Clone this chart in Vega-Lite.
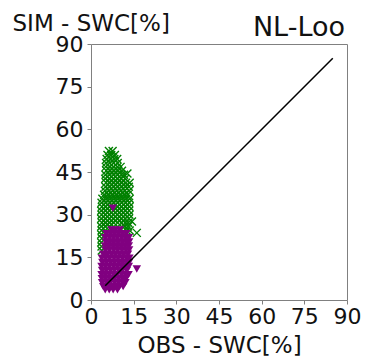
{
  "$schema": "https://vega.github.io/schema/vega-lite/v6.json",
  "width": 256,
  "height": 256,
  "autosize": {"type": "none"},
  "padding": {"left": 91, "top": 44, "right": 19, "bottom": 57},
  "background": "white",
  "config": {
    "view": {"stroke": "#808080", "strokeWidth": 1},
    "font": "DejaVu Sans",
    "axis": {"grid": false, "domain": false, "tickColor": "#808080", "tickSize": 4, "labelFont": "DejaVu Sans", "labelFontSize": 22, "labelColor": "#111", "labelFlush": false, "labelOverlap": false, "titleFont": "DejaVu Sans", "titleFontSize": 23, "titleFontWeight": "normal", "titleColor": "#111"}
  },
  "title": {"text": "NL-Loo", "anchor": "end", "orient": "top", "frame": "group", "fontSize": 27, "fontWeight": "normal", "font": "DejaVu Sans", "color": "#111", "baseline": "alphabetic", "offset": -51, "dx": -2},
  "datasets": {
    "green": [
      {"x":6.3,"y":52.4},{"x":7.6,"y":52.4},
      {"x":5.8,"y":51.0},{"x":7.1,"y":51.0},{"x":8.4,"y":51.0},
      {"x":5.5,"y":49.6},{"x":6.9,"y":49.6},{"x":8.2,"y":49.6},{"x":9.2,"y":49.6},
      {"x":5.3,"y":48.2},{"x":6.6,"y":48.2},{"x":8.0,"y":48.2},{"x":9.4,"y":48.2},
      {"x":5.2,"y":46.8},{"x":6.5,"y":46.8},{"x":7.9,"y":46.8},{"x":9.3,"y":46.8},{"x":10.4,"y":46.8},
      {"x":5.4,"y":45.4},{"x":6.8,"y":45.4},{"x":8.2,"y":45.4},{"x":9.6,"y":45.4},{"x":10.9,"y":45.4},{"x":12.8,"y":44.5},
      {"x":5.1,"y":44.0},{"x":6.5,"y":44.0},{"x":7.9,"y":44.0},{"x":9.3,"y":44.0},{"x":10.7,"y":44.0},{"x":11.6,"y":44.0},
      {"x":5.0,"y":42.6},{"x":6.4,"y":42.6},{"x":7.8,"y":42.6},{"x":9.2,"y":42.6},{"x":10.6,"y":42.6},{"x":12.0,"y":42.6},
      {"x":5.3,"y":41.2},{"x":6.7,"y":41.2},{"x":8.1,"y":41.2},{"x":9.5,"y":41.2},{"x":10.9,"y":41.2},{"x":12.3,"y":41.2},{"x":13.6,"y":41.2},
      {"x":5.1,"y":39.8},{"x":6.5,"y":39.8},{"x":7.9,"y":39.8},{"x":9.3,"y":39.8},{"x":10.7,"y":39.8},{"x":12.1,"y":39.8},{"x":13.3,"y":39.8},
      {"x":4.9,"y":38.4},{"x":6.3,"y":38.4},{"x":7.7,"y":38.4},{"x":9.1,"y":38.4},{"x":10.5,"y":38.4},{"x":11.9,"y":38.4},{"x":13.4,"y":38.4},
      {"x":4.6,"y":37.0},{"x":6.0,"y":37.0},{"x":7.4,"y":37.0},{"x":8.8,"y":37.0},{"x":10.2,"y":37.0},{"x":11.6,"y":37.0},{"x":12.9,"y":37.0},
      {"x":4.0,"y":35.6},{"x":5.4,"y":35.6},{"x":6.8,"y":35.6},{"x":8.2,"y":35.6},{"x":9.6,"y":35.6},{"x":11.0,"y":35.6},{"x":12.4,"y":35.6},{"x":13.6,"y":35.6},
      {"x":3.7,"y":34.2},{"x":5.1,"y":34.2},{"x":6.5,"y":34.2},{"x":7.9,"y":34.2},{"x":9.3,"y":34.2},{"x":10.7,"y":34.2},{"x":12.1,"y":34.2},{"x":13.4,"y":34.2},
      {"x":3.8,"y":32.8},{"x":5.2,"y":32.8},{"x":6.6,"y":32.8},{"x":8.0,"y":32.8},{"x":9.4,"y":32.8},{"x":10.8,"y":32.8},{"x":12.2,"y":32.8},{"x":13.5,"y":32.8},
      {"x":3.6,"y":31.4},{"x":5.0,"y":31.4},{"x":6.4,"y":31.4},{"x":7.8,"y":31.4},{"x":9.2,"y":31.4},{"x":10.6,"y":31.4},{"x":12.0,"y":31.4},{"x":13.4,"y":31.4},
      {"x":3.7,"y":30.0},{"x":5.1,"y":30.0},{"x":6.5,"y":30.0},{"x":7.9,"y":30.0},{"x":9.3,"y":30.0},{"x":10.7,"y":30.0},{"x":12.1,"y":30.0},{"x":13.5,"y":30.0},
      {"x":3.6,"y":28.6},{"x":5.0,"y":28.6},{"x":6.4,"y":28.6},{"x":7.8,"y":28.6},{"x":9.2,"y":28.6},{"x":10.6,"y":28.6},{"x":12.0,"y":28.6},{"x":13.3,"y":28.6},
      {"x":3.8,"y":27.2},{"x":5.2,"y":27.2},{"x":6.6,"y":27.2},{"x":8.0,"y":27.2},{"x":9.4,"y":27.2},{"x":10.8,"y":27.2},{"x":12.2,"y":27.2},{"x":13.1,"y":27.2},{"x":14.4,"y":27.6},
      {"x":3.6,"y":25.8},{"x":5.0,"y":25.8},{"x":6.4,"y":25.8},{"x":11.8,"y":25.8},{"x":13.0,"y":25.8},
      {"x":3.7,"y":24.4},{"x":12.5,"y":24.4},{"x":13.6,"y":24.4},{"x":16.1,"y":23.6},
      {"x":3.6,"y":23.0},{"x":3.8,"y":21.6},{"x":3.6,"y":20.2},{"x":3.7,"y":18.8},{"x":3.8,"y":17.4}
    ],
    "purple": [
      {"x":7.2,"y":24.6},{"x":8.6,"y":24.6},{"x":10.1,"y":24.6},
      {"x":5.4,"y":23.3},{"x":6.8,"y":23.3},{"x":8.2,"y":23.3},{"x":9.6,"y":23.3},{"x":11.0,"y":23.3},{"x":12.4,"y":23.3},
      {"x":5.0,"y":21.9},{"x":6.5,"y":21.9},{"x":7.9,"y":21.9},{"x":9.3,"y":21.9},{"x":10.8,"y":21.9},{"x":12.2,"y":21.9},{"x":13.3,"y":21.9},
      {"x":5.2,"y":20.4},{"x":6.6,"y":20.4},{"x":8.0,"y":20.4},{"x":9.5,"y":20.4},{"x":11.0,"y":20.4},{"x":12.4,"y":20.4},{"x":13.4,"y":20.4},
      {"x":4.9,"y":19.0},{"x":6.3,"y":19.0},{"x":7.8,"y":19.0},{"x":9.2,"y":19.0},{"x":10.6,"y":19.0},{"x":12.0,"y":19.0},{"x":13.3,"y":19.0},
      {"x":5.1,"y":17.6},{"x":6.5,"y":17.6},{"x":8.0,"y":17.6},{"x":9.4,"y":17.6},{"x":10.9,"y":17.6},{"x":12.3,"y":17.6},{"x":13.4,"y":17.6},
      {"x":4.3,"y":16.1},{"x":5.7,"y":16.1},{"x":7.2,"y":16.1},{"x":8.6,"y":16.1},{"x":10.1,"y":16.1},{"x":11.5,"y":16.1},{"x":13.0,"y":16.1},
      {"x":3.8,"y":14.7},{"x":5.2,"y":14.7},{"x":6.6,"y":14.7},{"x":8.1,"y":14.7},{"x":9.5,"y":14.7},{"x":11.0,"y":14.7},{"x":12.4,"y":14.7},{"x":13.5,"y":14.7},
      {"x":4.0,"y":13.2},{"x":5.4,"y":13.2},{"x":6.9,"y":13.2},{"x":8.3,"y":13.2},{"x":9.8,"y":13.2},{"x":11.2,"y":13.2},{"x":12.7,"y":13.2},{"x":13.4,"y":13.2},
      {"x":3.7,"y":11.8},{"x":5.1,"y":11.8},{"x":6.5,"y":11.8},{"x":8.0,"y":11.8},{"x":9.4,"y":11.8},{"x":10.9,"y":11.8},{"x":12.3,"y":11.8},{"x":13.3,"y":11.8},
      {"x":3.9,"y":10.4},{"x":5.3,"y":10.4},{"x":6.8,"y":10.4},{"x":8.2,"y":10.4},{"x":9.7,"y":10.4},{"x":11.1,"y":10.4},{"x":12.6,"y":10.4},
      {"x":3.7,"y":8.9},{"x":5.0,"y":8.9},{"x":6.4,"y":8.9},{"x":7.9,"y":8.9},{"x":9.3,"y":8.9},{"x":10.8,"y":8.9},{"x":12.2,"y":8.9},{"x":13.2,"y":8.9},
      {"x":3.8,"y":7.5},{"x":5.2,"y":7.5},{"x":6.7,"y":7.5},{"x":8.1,"y":7.5},{"x":9.6,"y":7.5},{"x":11.0,"y":7.5},{"x":12.3,"y":7.5},
      {"x":3.9,"y":6.1},{"x":5.4,"y":6.1},{"x":6.8,"y":6.1},{"x":8.3,"y":6.1},{"x":9.7,"y":6.1},{"x":11.1,"y":6.1},{"x":12.1,"y":6.1},
      {"x":4.3,"y":4.7},{"x":5.7,"y":4.7},{"x":7.1,"y":4.7},{"x":8.6,"y":4.7},{"x":10.0,"y":4.7},{"x":11.3,"y":4.7},
      {"x":5.0,"y":3.6},{"x":6.4,"y":3.6},{"x":7.8,"y":3.6},{"x":9.3,"y":3.6},
      {"x":7.7,"y":32.3},{"x":16.1,"y":10.9}
    ],
    "line": [{"x":5,"y":5},{"x":85,"y":85}]
  },
  "encoding": {
    "x": {"field": "x", "type": "quantitative", "scale": {"domain": [0, 90], "nice": false, "zero": false},
      "axis": {"values": [0,15,30,45,60,75,90], "labelPadding": 2, "title": "OBS - SWC[%]", "titleBaseline": "alphabetic", "titleY": 52, "titleX": 128, "titleAnchor": "middle"}},
    "y": {"field": "y", "type": "quantitative", "scale": {"domain": [0, 90], "nice": false, "zero": false},
      "axis": {"values": [0,15,30,45,60,75,90], "labelPadding": 4, "title": "SIM - SWC[%]", "titleAngle": 0, "titleAlign": "left", "titleBaseline": "alphabetic", "titleX": -79, "titleY": -14}}
  },
  "layer": [
    {"data": {"name": "green"}, "mark": {"type": "point", "shape": "M-1,-1L1,1M1,-1L-1,1", "filled": false, "stroke": "#008000", "strokeWidth": 1.4, "size": 64, "opacity": 1}},
    {"data": {"name": "purple"}, "mark": {"type": "point", "shape": "triangle-down", "filled": true, "fill": "#800080", "stroke": null, "size": 72, "opacity": 1}},
    {"data": {"name": "line"}, "mark": {"type": "line", "color": "black", "strokeWidth": 1.5}}
  ]
}
